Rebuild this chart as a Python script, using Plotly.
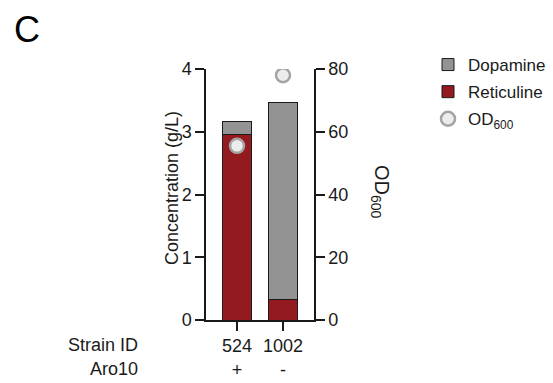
import plotly.graph_objects as go

# Data
strains = ["524", "1002"]
aro10 = ["+", "-"]
reticuline = [2.95, 0.32]      # g/L
dopamine = [0.21, 3.15]        # g/L
od600 = [55.5, 78.0]

FONT = "Arial, Liberation Sans, sans-serif"
RED = "#931b1f"
GREY = "#939393"
INK = "#1a1a1a"

ticktext = [f"{s}<br>{a}" for s, a in zip(strains, aro10)]
xpos = list(range(len(strains)))

fig = go.Figure()
fig.add_trace(go.Bar(
    x=xpos, y=reticuline, name="Reticuline", legendrank=2, legendgroup="ret",
    marker=dict(color=RED, line=dict(color=INK, width=1)),
    width=0.65,
))
fig.add_trace(go.Bar(
    x=xpos, y=dopamine, name="Dopamine", legendrank=1, legendgroup="dop",
    marker=dict(color=GREY, line=dict(color=INK, width=1)),
    width=0.65,
))
fig.add_trace(go.Scatter(
    x=xpos, y=od600, name="OD<sub>600</sub>", yaxis="y2", legendrank=3,
    legendgroup="od", mode="markers",
    marker=dict(size=14, color="#ececec", line=dict(color="#a3a3a3", width=2.5)),
))

W, H = 553, 383
x0, x1 = 206, 314
ytop, ybot = 69, 320

axis_common = dict(
    showline=True, linecolor=INK, linewidth=1.5,
    ticks="outside", ticklen=9, tickwidth=1.5, tickcolor=INK,
    showgrid=False, zeroline=False, automargin=False,
    tickfont=dict(size=18),
)

fig.update_layout(
    width=W, height=H,
    margin=dict(l=0, r=0, t=0, b=0, autoexpand=False),
    paper_bgcolor="white", plot_bgcolor="white",
    barmode="stack",
    font=dict(family=FONT, size=18, color=INK),
    showlegend=True,
    legend=dict(
        x=428 / W, y=1 - 47 / H, xanchor="left", yanchor="top",
        traceorder="grouped",
        font=dict(size=17), tracegroupgap=2, itemwidth=30,
        bgcolor="rgba(0,0,0,0)",
    ),
    xaxis=dict(
        domain=[x0 / W, x1 / W], range=[-0.674, 1.674],
        tickmode="array", tickvals=xpos, ticktext=ticktext,
        **axis_common,
    ),
    yaxis=dict(
        domain=[1 - ybot / H, 1 - ytop / H], range=[0, 4],
        tickvals=[0, 1, 2, 3, 4],
        **axis_common,
    ),
    yaxis2=dict(
        overlaying="y", side="right", anchor="x", range=[0, 80],
        tickvals=[0, 20, 40, 60, 80],
        **axis_common,
    ),
    annotations=[
        dict(text="C", x=12 / W, y=1 - 30 / H, xref="paper", yref="paper",
             xanchor="left", yanchor="middle", showarrow=False,
             font=dict(size=36, family=FONT, color="#000")),
        dict(text="Concentration (g/L)", textangle=-90,
             x=172 / W, y=1 - 188 / H, xref="paper", yref="paper",
             xanchor="center", yanchor="middle", showarrow=False,
             font=dict(size=18)),
        dict(text="OD<sub>600</sub>", textangle=90,
             x=380 / W, y=1 - 192 / H, xref="paper", yref="paper",
             xanchor="center", yanchor="middle", showarrow=False,
             font=dict(size=20)),
        dict(text="Strain ID", x=140 / W, y=1 - 345 / H,
             xref="paper", yref="paper", xanchor="right", yanchor="middle",
             showarrow=False, font=dict(size=18)),
        dict(text="Aro10", x=140 / W, y=1 - 369 / H,
             xref="paper", yref="paper", xanchor="right", yanchor="middle",
             showarrow=False, font=dict(size=18)),
    ],
)

fig.write_html("out.html")
